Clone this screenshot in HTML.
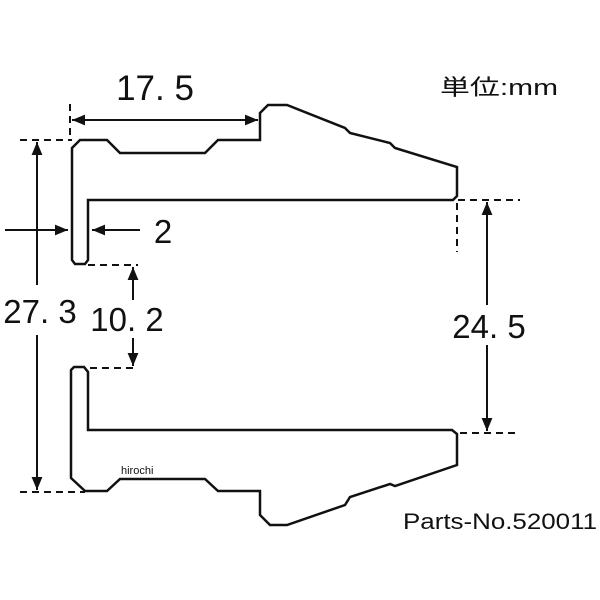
<!DOCTYPE html>
<html><head><meta charset="utf-8"><style>
body{margin:0;background:#fff}
svg{display:block}
text{font-family:"Liberation Sans","Noto Sans CJK JP",sans-serif;fill:#111}
</style></head><body>
<svg width="600" height="600" viewBox="0 0 600 600" xmlns="http://www.w3.org/2000/svg">
<defs>
<marker id="a" viewBox="0 0 12 10" refX="12" refY="5" markerWidth="13" markerHeight="11" markerUnits="userSpaceOnUse" orient="auto-start-reverse"><path d="M0,0 L12,5 L0,10 z" fill="#111"/></marker>
</defs>
<g fill="none" stroke="#111" stroke-width="2.5" stroke-linejoin="miter">
<path d="M88,258 L88,200 L453,200 L457,196 L457,167 L395,148 L390,143 L350,133 L345,128 L287,105 L268,105 L260,113 L260,140 L218,140 L205,153 L120,153 L107,140 L80,140 L72,148 L72,260 L75,264 L85,264 L88,260 Z"/>
<path d="M88,372 L88,430 L452,430 L457,434 L457,465 L395,486 L390,484 L350,497 L345,505 L287,525 L270,525 L260,515 L260,491 L218,491 L205,479 L120,479 L107,491 L85,491 L71,478 L71,370 L74,367 L84,367 L88,372 Z"/>
</g>
<g stroke="#111" stroke-width="2" fill="none">
<g stroke-dasharray="7,5">
<line x1="70" y1="104" x2="70" y2="140"/>
<line x1="20" y1="140" x2="72" y2="140"/>
<line x1="20" y1="492" x2="85" y2="492"/>
<line x1="88" y1="265" x2="138" y2="265"/>
<line x1="90" y1="368" x2="138" y2="368"/>
<line x1="458" y1="200" x2="520" y2="200"/>
<line x1="460" y1="433" x2="520" y2="433"/>
<line x1="457" y1="203" x2="457" y2="252"/>
</g>
<line x1="72" y1="120" x2="258" y2="120" marker-start="url(#a)" marker-end="url(#a)"/>
<line x1="37" y1="285" x2="37" y2="142" marker-end="url(#a)"/>
<line x1="37" y1="335" x2="37" y2="490" marker-end="url(#a)"/>
<line x1="5" y1="230" x2="68" y2="230" marker-end="url(#a)"/>
<line x1="140" y1="230" x2="92" y2="230" marker-end="url(#a)"/>
<line x1="133" y1="300" x2="133" y2="267" marker-end="url(#a)"/>
<line x1="133" y1="338" x2="133" y2="366" marker-end="url(#a)"/>
<line x1="487" y1="305" x2="487" y2="202" marker-end="url(#a)"/>
<line x1="487" y1="345" x2="487" y2="431" marker-end="url(#a)"/>
</g>
<text x="155" y="100" font-size="35" text-anchor="middle">17. 5</text>
<text x="40" y="323" font-size="33" text-anchor="middle">27. 3</text>
<text x="163" y="243" font-size="33" text-anchor="middle">2</text>
<text x="127" y="331" font-size="33" text-anchor="middle">10. 2</text>
<text x="489" y="338" font-size="33" text-anchor="middle">24. 5</text>
<text x="440" y="95" font-size="22" textLength="118" lengthAdjust="spacingAndGlyphs">単位:mm</text>
<text x="403" y="529" font-size="22" textLength="194" lengthAdjust="spacingAndGlyphs">Parts-No.520011</text>
<text x="121" y="474" font-size="11">hirochi</text>
</svg>
</body></html>
